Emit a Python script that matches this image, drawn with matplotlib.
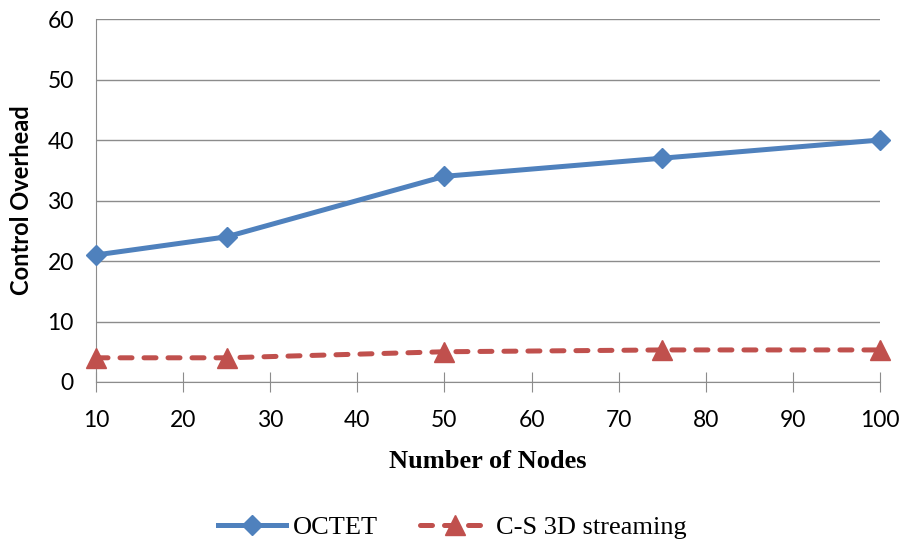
import matplotlib.pyplot as plt

nodes = [10, 25, 50, 75, 100]
octet = [21, 24, 34, 37, 40]
cs_3d = [4, 4, 5, 5.3, 5.3]

fig = plt.figure(figsize=(9.04, 5.44), dpi=100)
ax = fig.add_axes([0.1062, 0.2978, 0.8673, 0.6672])

ax.plot(nodes, octet, color="#4F81BD", lw=3.6, marker="D", ms=10.5, clip_on=False,
        zorder=3, label="OCTET")
ax.plot(nodes, cs_3d, color="#C0504D", lw=3.6, ls=(0, (2.4, 2.4)), marker="^", ms=14,
        dash_capstyle="round", clip_on=False, zorder=3, label="C-S 3D streaming")

ax.set_xlim(10, 100)
ax.set_ylim(0, 60)
ax.set_xticks(range(10, 101, 10))
ax.set_yticks(range(0, 61, 10))
ax.yaxis.grid(True, color="#8c8c8c", lw=1)
ax.set_axisbelow(True)
for s in ["top", "right"]:
    ax.spines[s].set_visible(False)
for s in ["left", "bottom"]:
    ax.spines[s].set_color("#8c8c8c")
ax.tick_params(axis="y", length=0, pad=16, labelsize=16.5)
ax.tick_params(axis="x", direction="inout", length=14, color="#8c8c8c", pad=13, labelsize=16.5)
for t in ax.get_xticklabels() + ax.get_yticklabels():
    t.set_fontfamily("Lato")

ax.set_xlabel("Number of Nodes", family="Liberation Serif", weight="bold", fontsize=19, labelpad=14)
ax.set_ylabel("Control Overhead", family="Lato", weight="bold", fontsize=17, labelpad=10)

fig.legend(loc="lower center", bbox_to_anchor=(0.5, -0.035), ncol=2, frameon=False,
           prop={"family": "Liberation Serif", "size": 19}, handlelength=2.6,
           handletextpad=0.25, columnspacing=1.6)

fig.savefig("out.png", dpi=100)
